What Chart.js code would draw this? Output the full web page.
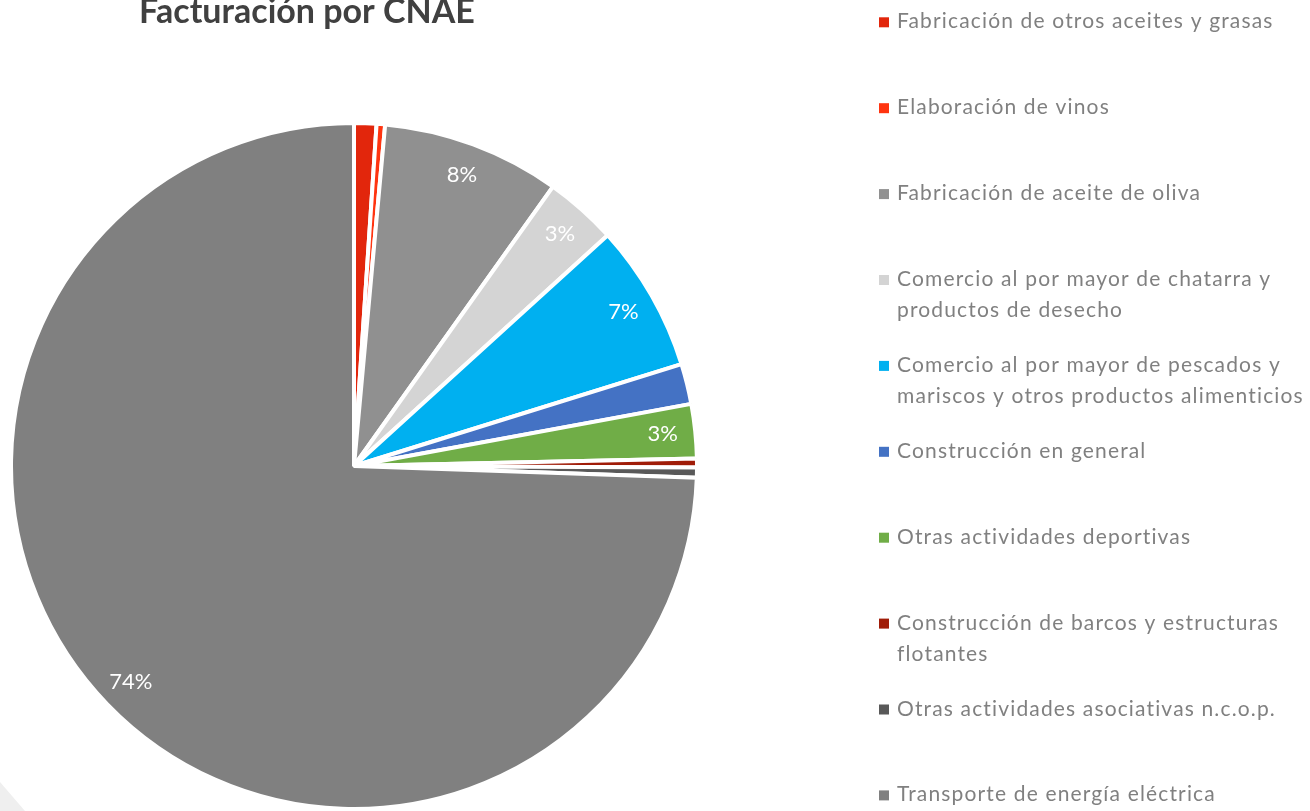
<!DOCTYPE html>
<html>
<head>
<meta charset="utf-8">
<script src="https://cdn.jsdelivr.net/npm/chart.js@4.4.1/dist/chart.umd.min.js"></script>
<style>
  html, body { margin: 0; padding: 0; background: #fff; overflow: hidden; }
  #wrap { position: relative; width: 1310px; height: 811px; }
  #corner { position: absolute; left: 0; top: 782px; width: 25px; height: 29px;
            background: #efefef; clip-path: polygon(0 0, 0 100%, 100% 100%); }
  canvas { position: absolute; left: 0; top: 0; }
</style>
</head>
<body>
<div id="wrap">
  <div id="corner"></div>
  <canvas id="cnaeChart" width="1310" height="811"></canvas>
</div>
<script>
const chartTitle = 'Facturación por CNAE';

const categories = [
    'Fabricación de otros aceites y grasas',
    'Elaboración de vinos',
    'Fabricación de aceite de oliva',
    ['Comercio al por mayor de chatarra y', 'productos de desecho'],
    ['Comercio al por mayor de pescados y', 'mariscos y otros productos alimenticios'],
    'Construcción en general',
    'Otras actividades deportivas',
    ['Construcción de barcos y estructuras', 'flotantes'],
    'Otras actividades asociativas n.c.o.p.',
    'Transporte de energía eléctrica'
];

// cuota de facturación (%)
const shares = [1.05, 0.4, 8.4, 3.4, 6.95, 1.9, 2.55, 0.42, 0.48, 74.45];

const sliceColors = [
    '#e2260c', '#ff3410', '#909090', '#d4d4d4', '#00b0f0',
    '#4472c4', '#70ad47', '#a01c08', '#595959', '#808080'
];

const minShareLabelled = 2.5;

const sideTexts = {
    id: 'sideTexts',
    afterDraw(chart) {
        const ctx = chart.ctx;
        ctx.save();

        // titulo (cortado arriba como en la diapositiva)
        ctx.fillStyle = '#404040';
        ctx.font = 'bold 34px Lato';
        ctx.textAlign = 'center';
        ctx.textBaseline = 'alphabetic';
        ctx.fillText(chartTitle, 307, 23);

        // etiquetas de porcentaje
        const meta = chart.getDatasetMeta(0);
        const values = chart.data.datasets[0].data;
        const total = values.reduce((a, b) => a + b, 0);
        ctx.fillStyle = '#ffffff';
        ctx.font = '22px Lato';
        ctx.textBaseline = 'middle';
        meta.data.forEach((arc, i) => {
            if (values[i] < minShareLabelled) return;
            const p = arc.getProps(['x', 'y', 'startAngle', 'endAngle', 'outerRadius'], true);
            const mid = (p.startAngle + p.endAngle) / 2;
            const r = p.outerRadius * 0.905;
            const pct = Math.round(values[i] / total * 100) + '%';
            ctx.fillText(pct, p.x + Math.cos(mid) * r, p.y + Math.sin(mid) * r);
        });

        // leyenda a la derecha
        ctx.font = '21px Lato';
        ctx.letterSpacing = '1.15px';
        ctx.textAlign = 'left';
        ctx.textBaseline = 'alphabetic';
        const colors = chart.data.datasets[0].backgroundColor;
        chart.data.labels.forEach((label, i) => {
            const base = 28.3 + i * 85.9;
            const lines = Array.isArray(label) ? label : [label];
            ctx.fillStyle = colors[i];
            ctx.fillRect(879, base - 11, 10, 10);
            ctx.fillStyle = '#808080';
            lines.forEach((line, j) => ctx.fillText(line, 897, base + j * 31));
        });

        ctx.restore();
    }
};

const cnaeChart = new Chart(document.getElementById('cnaeChart').getContext('2d'), {
    type: 'pie',
    data: {
        labels: categories,
        datasets: [{
            data: shares,
            backgroundColor: sliceColors,
            borderColor: '#ffffff',
            borderWidth: 4
        }]
    },
    options: {
        responsive: false,
        animation: false,
        layout: { padding: { left: 7, top: 121, right: 609, bottom: -4 } },
        plugins: {
            legend: { display: false },
            tooltip: { enabled: false }
        }
    },
    plugins: [sideTexts]
});
</script>
</body>
</html>
